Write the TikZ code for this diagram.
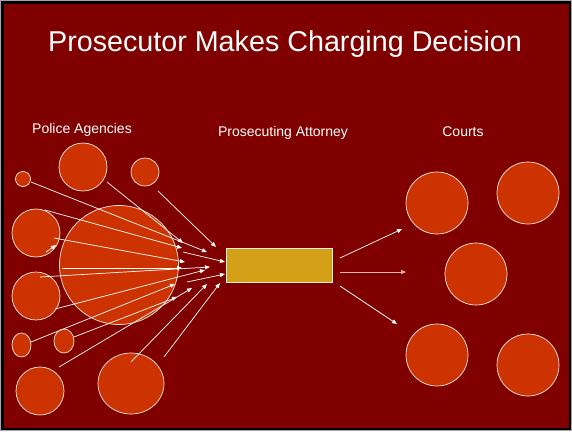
\documentclass[tikz,border=0pt]{standalone}
\usepackage{fontspec}
\setmainfont{Liberation Sans}
\usetikzlibrary{arrows.meta,shapes.geometric}
\definecolor{bgred}{HTML}{800000}
\definecolor{orb}{HTML}{CC3300}
\definecolor{gold}{HTML}{D4A017}
\definecolor{pinkline}{HTML}{E6B8B8}
\tikzset{
  orbc/.style={circle,fill=orb,draw=white!90!orb,line width=0.7pt,inner sep=0pt,minimum size=#1},
  orbe/.style={ellipse,fill=orb,draw=white!90!orb,line width=0.7pt,inner sep=0pt},
  arr/.style={draw=white,line width=0.7pt,-{Triangle[length=5pt,width=4pt]}},
  lbl/.style={text=white,font=\fontsize{14}{16}\selectfont,anchor=base},
}
\begin{document}
\begin{tikzpicture}[x=1pt,y=-1pt]
\useasboundingbox (0,0) rectangle (572,431);
\fill[gray!70] (0,0) rectangle (572,431);
\fill[black] (1,1) rectangle (571,430);
\fill[bgred] (4,4) rectangle (569,428);

\node[text=white,font=\fontsize{28.7}{32}\selectfont,anchor=base] (title) at (285,51) {Prosecutor Makes Charging Decision};
\node[lbl] (lpol) at (82,133) {Police Agencies};
\node[lbl] (lpro) at (283,136) {Prosecuting Attorney};
\node[lbl] (lcou) at (463,136) {Courts};

% police agencies
\node[orbc=15pt] (p1) at (23,179) {};
\node[orbc=48pt] (p2) at (83,167) {};
\node[orbc=28pt] (p3) at (145,172) {};
\node[orbc=48pt] (p4) at (36,233) {};
\node[orbc=119pt] (big) at (119,265) {};
\node[orbc=48pt] (p5) at (36,296) {};
\node[orbe,minimum width=19pt,minimum height=24pt] (e1) at (21.5,345) {};
\node[orbe,minimum width=20pt,minimum height=24pt] (e2) at (64,341) {};
\node[orbc=48pt] (p6) at (40,391) {};
\node[orbe,minimum width=66pt,minimum height=61pt] (bb) at (131,383.5) {};

% prosecuting attorney
\node[draw=white!85!gold,fill=gold,line width=0.8pt,minimum width=106pt,minimum height=34pt,inner sep=0pt] (pa) at (279,265) {};

% courts
\node[orbc=62pt] (r1) at (437,203) {};
\node[orbc=62pt] (r2) at (528,193) {};
\node[orbc=62pt] (r3) at (476,274) {};
\node[orbc=62pt] (r4) at (437,355) {};
\node[orbc=62pt] (r5) at (528,365) {};

% connector end points
\coordinate (s1) at (31,182);   \coordinate (t1) at (207,252);
\coordinate (s2) at (107,182);  \coordinate (t2) at (183,243);
\coordinate (s3) at (158,191);  \coordinate (t3) at (216,247);
\coordinate (s4) at (45,210);   \coordinate (t4) at (182,248);
\coordinate (s5) at (54,238);   \coordinate (t5) at (185,262);
\coordinate (s6) at (46,252);   \coordinate (t6) at (56,245);
\coordinate (s7) at (40,277);   \coordinate (t7) at (210,267);
\coordinate (s8) at (62,268);   \coordinate (t8) at (182,268);
\coordinate (s9) at (55,309);   \coordinate (t9) at (205,270);
\coordinate (s10) at (31,342);  \coordinate (t10) at (175,284);
\coordinate (s11) at (74,337);  \coordinate (t11) at (177,297);
\coordinate (s12) at (59,367);  \coordinate (t12) at (192,288);
\coordinate (s13) at (131,362); \coordinate (t13) at (207,284);
\coordinate (s14) at (164,357); \coordinate (t14) at (220,283);
\coordinate (s15) at (183,252); \coordinate (t15) at (225,262);
\coordinate (s16) at (187,282); \coordinate (t16) at (225,274);

\foreach \i in {1,...,16} {\draw[arr] (s\i) -- (t\i);}

% right arrows
\coordinate (u1) at (340,258); \coordinate (v1) at (402,229);
\coordinate (u2) at (340,272); \coordinate (v2) at (406,272);
\coordinate (u3) at (340,286); \coordinate (v3) at (397,324);
\draw[arr] (u1) -- (v1);
\draw[arr,draw=pinkline] (u2) -- (v2);
\draw[arr] (u3) -- (v3);
\end{tikzpicture}
\end{document}
